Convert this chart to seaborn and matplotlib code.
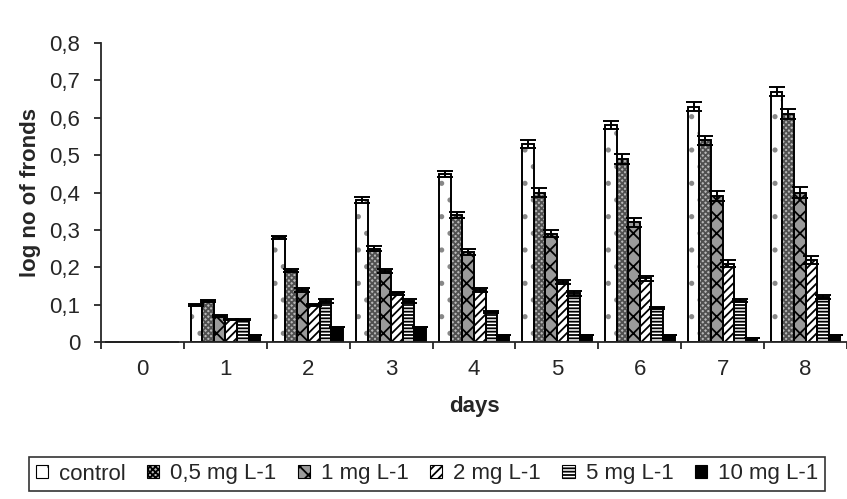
import numpy as np
import matplotlib
matplotlib.use('Agg')
import matplotlib.pyplot as plt
from matplotlib.patches import Patch
import pandas as pd
import seaborn as sns

days = ['0', '1', '2', '3', '4', '5', '6', '7', '8']
groups = ['control', '0,5 mg L-1', '1 mg L-1', '2 mg L-1', '5 mg L-1', '10 mg L-1']

control = [0, 0.10, 0.28, 0.38, 0.45, 0.53, 0.58, 0.63, 0.67]
mg05 = [0, 0.11, 0.19, 0.25, 0.34, 0.40, 0.49, 0.54, 0.61]
mg1 = [0, 0.07, 0.14, 0.19, 0.24, 0.29, 0.32, 0.39, 0.40]
mg2 = [0, 0.06, 0.10, 0.13, 0.14, 0.16, 0.17, 0.21, 0.22]
mg5 = [0, 0.06, 0.11, 0.11, 0.08, 0.13, 0.09, 0.11, 0.12]
mg10 = [0, 0.02, 0.04, 0.04, 0.02, 0.02, 0.02, 0.01, 0.02]

err_control = [0, 0.003, 0.004, 0.007, 0.008, 0.010, 0.010, 0.012, 0.012]
err_mg05 = [0, 0.003, 0.004, 0.007, 0.008, 0.012, 0.014, 0.012, 0.014]
err_mg1 = [0, 0.002, 0.005, 0.005, 0.008, 0.010, 0.012, 0.013, 0.015]
err_mg2 = [0, 0.002, 0.003, 0.005, 0.005, 0.006, 0.007, 0.010, 0.010]
err_mg5 = [0, 0.002, 0.005, 0.005, 0.003, 0.006, 0.003, 0.004, 0.006]
err_mg10 = [0, 0, 0, 0, 0, 0, 0, 0, 0]

values = [control, mg05, mg1, mg2, mg5, mg10]
errors = [err_control, err_mg05, err_mg1, err_mg2, err_mg5, err_mg10]

rows = []
for g, vals in zip(groups, values):
    for d, v in zip(days, vals):
        rows.append({'day': d, 'group': g, 'val': v})
df = pd.DataFrame(rows)

sns.set_style('ticks')
plt.rcParams['font.family'] = ['Liberation Sans', 'DejaVu Sans']
plt.rcParams['hatch.linewidth'] = 1.3

# fill colour, hatch, hatch colour per group
facecols = ['white', '#b8b8b8', '#9a9a9a', 'white', 'white', 'black']
hatches = ['.', 'xxxxxx', 'xx', '////', '-----', '']
hatchcols = ['#888888', '#505050', 'black', 'black', 'black', 'black']

fs = 16

fig = plt.figure(figsize=(8.47, 4.99), dpi=100)
ax = fig.add_axes([101/847, 1 - 342/499, 746/847, (342 - 43)/499])

# hatched fill layer
sns.barplot(data=df, x='day', y='val', hue='group', order=days, hue_order=groups,
            errorbar=None, width=0.84, ax=ax, legend=False)
# black outline layer
sns.barplot(data=df, x='day', y='val', hue='group', order=days, hue_order=groups,
            errorbar=None, width=0.84, ax=ax, legend=False, fill=False)

fills = ax.containers[:6]
outlines = ax.containers[6:12]

for cont, fc, h, hc in zip(fills, facecols, hatches, hatchcols):
    for bar in cont:
        bar.set_facecolor(fc)
        bar.set_edgecolor(hc)
        bar.set_linewidth(0)
        bar.set_hatch(h)

for cont, err in zip(list(outlines), errors):
    xs = []
    ys = []
    for bar in cont:
        bar.set_facecolor('none')
        bar.set_edgecolor('black')
        bar.set_linewidth(1.4)
        xs.append(bar.get_x() + bar.get_width() / 2)
        ys.append(bar.get_height())
    ax.errorbar(xs, ys, yerr=err, fmt='none', ecolor='black', elinewidth=1.4,
                capsize=5.5, capthick=1.4)

ax.set_xlim(-0.5, 8.5)
ax.set_ylim(0, 0.8)
ax.set_yticks(np.arange(0, 0.81, 0.1))
ax.set_yticklabels(['0'] + [f'{t:.1f}'.replace('.', ',') for t in np.arange(0.1, 0.81, 0.1)])
ax.set_xticks(np.arange(-0.5, 8.6, 1.0))
ax.set_xticklabels([])
ax.set_xticks(np.arange(0, 9), minor=True)
ax.set_xticklabels(days, minor=True)
ax.tick_params(axis='x', which='minor', length=0, pad=12, labelsize=fs)
ax.tick_params(axis='x', which='major', length=5, width=1.3, direction='out')
ax.tick_params(axis='y', length=5, width=1.3, labelsize=fs, pad=10)
for s in ['top', 'right']:
    ax.spines[s].set_visible(False)
for s in ['left', 'bottom']:
    ax.spines[s].set_linewidth(1.3)

ax.set_xlabel('days', fontsize=fs, fontweight='bold', labelpad=12)
ax.set_ylabel('log no of fronds', fontsize=fs, fontweight='bold', labelpad=6)

handles = [Patch(facecolor=fc, edgecolor='black', hatch=h, linewidth=0.8)
           for fc, h in zip(facecols, hatches)]
leg = fig.legend(handles, groups, loc='center', bbox_to_anchor=(427/847, 1 - 474/499),
                 ncol=6, fontsize=fs, frameon=True, fancybox=False, handlelength=0.55,
                 handleheight=0.55, handletextpad=0.5, columnspacing=0.95, borderpad=0.3)
leg.get_frame().set_edgecolor('black')
leg.get_frame().set_linewidth(1.2)

fig.savefig('out.png', dpi=100)
